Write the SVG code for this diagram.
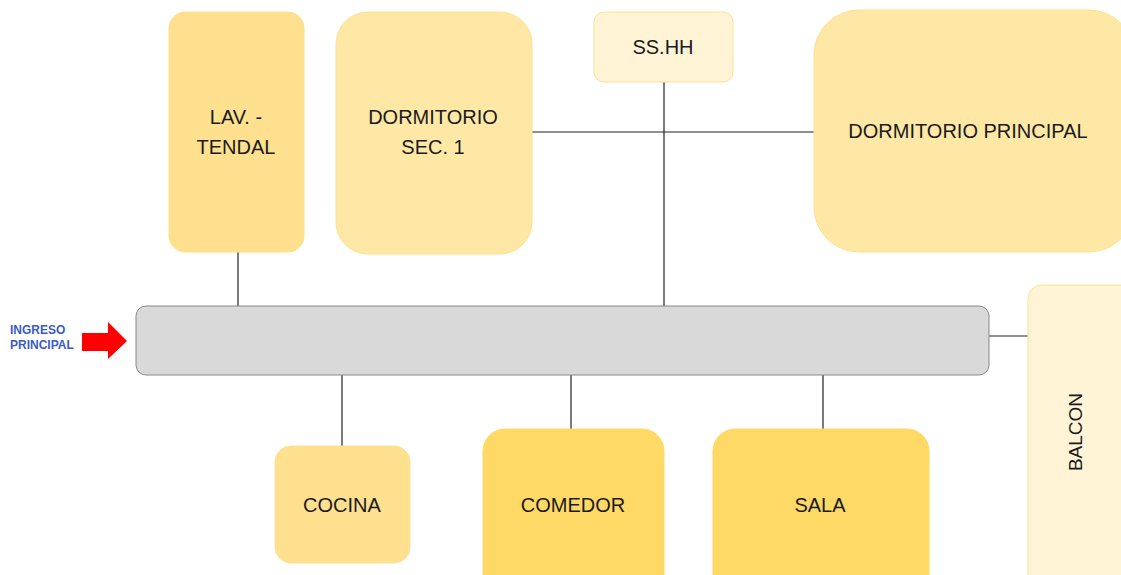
<svg xmlns="http://www.w3.org/2000/svg" width="1121" height="575" viewBox="0 0 1121 575">
<style>
.t{font-family:"Liberation Sans",Arial,sans-serif;font-size:20px;fill:#1a1a1a;text-anchor:middle;dominant-baseline:central}
.c{stroke:#222;stroke-width:1.2;fill:none}
.y1{fill:#FFE08F;stroke:#FFE08F}
.y2{fill:#FFE8A6;stroke:#FFE08F}
.y3{fill:#FFF4D6;stroke:#FFE08F}
.y4{fill:#FFD966;stroke:#FFD966}
</style>
<rect width="1121" height="575" fill="#fff"/>
<g id="connectors">
<line class="c" x1="238" y1="252" x2="238" y2="306"/>
<line class="c" x1="532" y1="132" x2="814" y2="132"/>
<line class="c" x1="664" y1="82" x2="664" y2="306"/>
<line class="c" x1="989" y1="336" x2="1028" y2="336"/>
<line class="c" x1="342" y1="375" x2="342" y2="446"/>
<line class="c" x1="571" y1="375" x2="571" y2="429"/>
<line class="c" x1="823" y1="375" x2="823" y2="429"/>
</g>
<g id="ingreso">
<text x="10" y="334" font-family="'Liberation Sans',Arial,sans-serif" font-size="12" font-weight="bold" fill="#3A5BC7">INGRESO</text>
<text x="10" y="349" font-family="'Liberation Sans',Arial,sans-serif" font-size="12" font-weight="bold" fill="#3A5BC7">PRINCIPAL</text>
<polygon points="82,333 108,333 108,322 127,341 108,359 108,351 82,351" fill="#FF0000"/>
</g>
<g id="hall"><rect x="136" y="306" width="853" height="69" rx="10" fill="#D9D9D9" stroke="#888"/></g>
<g id="lav"><rect class="y1" x="169" y="12" width="135" height="240" rx="16"/>
<text class="t" x="236" y="117">LAV. -</text><text class="t" x="236" y="147">TENDAL</text></g>
<g id="dorm1"><rect class="y2" x="336" y="12" width="196" height="242" rx="32"/>
<text class="t" x="433" y="117">DORMITORIO</text><text class="t" x="433" y="147">SEC. 1</text></g>
<g id="sshh"><rect class="y3" x="594" y="12" width="139" height="70" rx="10"/>
<text class="t" x="663" y="47">SS.HH</text></g>
<g id="dormp"><rect class="y2" x="814" y="10" width="320" height="242" rx="45"/>
<text class="t" x="968" y="131">DORMITORIO PRINCIPAL</text></g>
<g id="balcon"><rect class="y3" x="1028" y="285" width="110" height="310" rx="14"/>
<text class="t" style="font-size:19px" transform="translate(1075,432) rotate(-90)" x="0" y="0">BALCON</text></g>
<g id="cocina"><rect class="y1" x="275" y="446" width="135" height="117" rx="16"/>
<text class="t" x="342" y="505">COCINA</text></g>
<g id="comedor"><rect class="y4" x="483" y="429" width="181" height="170" rx="22"/>
<text class="t" x="573" y="505">COMEDOR</text></g>
<g id="sala"><rect class="y4" x="713" y="429" width="216" height="170" rx="22"/>
<text class="t" x="820" y="505">SALA</text></g>
</svg>
